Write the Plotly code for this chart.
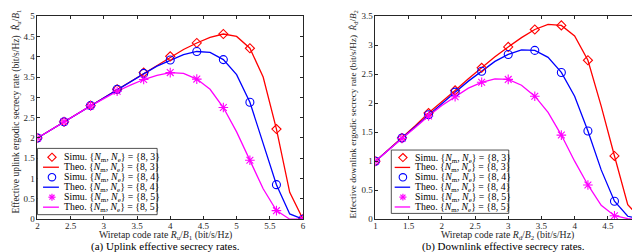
import plotly.graph_objects as go

# ---------------- data ----------------
x_up_sim = [2.0, 2.4, 2.8, 3.2, 3.6, 4.0, 4.4, 4.8, 5.2, 5.6, 6.0]
up_sim_83 = [2.0, 2.4, 2.8, 3.2, 3.61, 4.01, 4.34, 4.56, 4.21, 2.22, 0.0]
up_sim_84 = [2.0, 2.4, 2.8, 3.2, 3.59, 3.92, 4.13, 3.93, 2.88, 0.85, 0.0]
up_sim_85 = [2.0, 2.4, 2.79, 3.15, 3.44, 3.61, 3.45, 2.75, 1.45, 0.21, 0.0]

x_up_theo = [2.0, 2.2, 2.4, 2.6, 2.8, 3.0, 3.2, 3.4, 3.6, 3.8, 4.0,
             4.2, 4.4, 4.6, 4.8, 5.0, 5.2, 5.4, 5.6, 5.8, 6.0]
up_theo_83 = [2.0, 2.2, 2.4, 2.6, 2.8, 3.0, 3.2, 3.4, 3.6, 3.8, 4.0,
              4.18, 4.34, 4.48, 4.56, 4.5, 4.21, 3.5, 2.22, 0.66, 0.0]
up_theo_84 = [2.0, 2.2, 2.4, 2.6, 2.8, 3.0, 3.2, 3.39, 3.58, 3.77, 3.92,
              4.05, 4.13, 4.11, 3.93, 3.56, 2.88, 1.85, 0.85, 0.13, 0.0]
up_theo_85 = [2.0, 2.2, 2.4, 2.59, 2.79, 2.97, 3.15, 3.3, 3.44, 3.54, 3.61,
              3.59, 3.45, 3.2, 2.75, 2.15, 1.45, 0.75, 0.21, 0.0, 0.0]

x_dn_sim = [1.0, 1.4, 1.8, 2.2, 2.6, 3.0, 3.4, 3.8, 4.2, 4.6, 5.0]
dn_sim_83 = [1.0, 1.4, 1.83, 2.22, 2.61, 2.97, 3.27, 3.34, 2.74, 1.09, 0.0]
dn_sim_84 = [1.0, 1.4, 1.8, 2.19, 2.55, 2.84, 2.91, 2.53, 1.52, 0.31, 0.0]
dn_sim_85 = [1.0, 1.39, 1.78, 2.11, 2.36, 2.41, 2.12, 1.45, 0.59, 0.06, 0.0]

x_dn_theo = [1.0, 1.2, 1.4, 1.6, 1.8, 2.0, 2.2, 2.4, 2.6, 2.8, 3.0,
             3.2, 3.4, 3.6, 3.8, 4.0, 4.2, 4.4, 4.6, 4.8, 5.0]
dn_theo_83 = [1.0, 1.2, 1.4, 1.61, 1.83, 2.02, 2.22, 2.42, 2.61, 2.8, 2.97,
              3.13, 3.27, 3.36, 3.34, 3.16, 2.74, 1.95, 1.09, 0.25, 0.0]
dn_theo_84 = [1.0, 1.2, 1.4, 1.6, 1.8, 2.0, 2.19, 2.38, 2.55, 2.72, 2.84,
              2.92, 2.91, 2.79, 2.53, 2.12, 1.52, 0.85, 0.31, 0.05, 0.0]
dn_theo_85 = [1.0, 1.2, 1.39, 1.58, 1.78, 1.96, 2.11, 2.26, 2.36, 2.42, 2.41,
              2.31, 2.12, 1.84, 1.45, 1.0, 0.59, 0.24, 0.06, 0.01, 0.0]

up_ticks_x = [2, 2.5, 3, 3.5, 4, 4.5, 5, 5.5, 6]
up_ticks_y = [0, 0.5, 1, 1.5, 2, 2.5, 3, 3.5, 4, 4.5, 5]
dn_ticks_x = [1, 1.5, 2, 2.5, 3, 3.5, 4, 4.5, 5]
dn_ticks_y = [0, 0.5, 1, 1.5, 2, 2.5, 3, 3.5]

series_labels = [
    "Simu. {<i>N</i><sub>m</sub>, <i>N</i><sub>e</sub>} = {8, 3}",
    "Theo. {<i>N</i><sub>m</sub>, <i>N</i><sub>e</sub>} = {8, 3}",
    "Simu. {<i>N</i><sub>m</sub>, <i>N</i><sub>e</sub>} = {8, 4}",
    "Theo. {<i>N</i><sub>m</sub>, <i>N</i><sub>e</sub>} = {8, 4}",
    "Simu. {<i>N</i><sub>m</sub>, <i>N</i><sub>e</sub>} = {8, 5}",
    "Theo. {<i>N</i><sub>m</sub>, <i>N</i><sub>e</sub>} = {8, 5}",
]

up_xtitle = "Wiretap code rate <i>R</i><sub>u</sub>/<i>B</i><sub>1</sub> (bit/s/Hz)"
dn_xtitle = "Wiretap code rate <i>R</i><sub>d</sub>/<i>B</i><sub>2</sub> (bit/s/Hz)"
up_ytitle = "Effective uplink ergodic secrecy rate (bit/s/Hz)  <i>R\u0302</i><sub>u</sub>/<i>B</i><sub>1</sub>"
dn_ytitle = "Effective downlink ergodic secrecy rate (bit/s/Hz)  <i>R\u0302</i><sub>d</sub>/<i>B</i><sub>2</sub>"
up_caption = "(a) Uplink effective secrecy rates."
dn_caption = "(b) Downlink effective secrecy rates."

# ---------------- styling ----------------
W, H = 640, 252
RED, BLUE, MAG = "#ff0000", "#0000ff", "#ff00ff"
FONT = "Liberation Serif"
AX = "#262626"

def X(px):
    return px / W

def Y(py):
    return 1 - py / H

fig = go.Figure()

def add_panel(xs, s83, s84, s85, xt, t83, t84, t85, xa, ya):
    sims = [(s83, RED, "diamond-open", 7), (s84, BLUE, "circle-open", 8),
            (s85, MAG, "asterisk-open", 8)]
    theos = [(t83, RED), (t84, BLUE), (t85, MAG)]
    for i in range(3):
        tv, col = theos[i]
        fig.add_trace(go.Scatter(x=xt, y=tv, mode="lines", name=series_labels[2 * i + 1],
                                 line=dict(color=col, width=1.3), xaxis=xa, yaxis=ya,
                                 showlegend=False))
    for i in range(3):
        sv, col, sym, sz = sims[i]
        fig.add_trace(go.Scatter(x=xs, y=sv, mode="markers", name=series_labels[2 * i],
                                 marker=dict(symbol=sym, size=sz, color=col,
                                             line=dict(color=col, width=1.1)),
                                 xaxis=xa, yaxis=ya, showlegend=False))

add_panel(x_up_sim, up_sim_83, up_sim_84, up_sim_85,
          x_up_theo, up_theo_83, up_theo_84, up_theo_85, "x", "y")
add_panel(x_dn_sim, dn_sim_83, dn_sim_84, dn_sim_85,
          x_dn_theo, dn_theo_83, dn_theo_84, dn_theo_85, "x2", "y2")

ydom = [Y(214.7), Y(3.3)]
axis_common = dict(showline=True, linecolor=AX, linewidth=0.8, mirror="ticks",
                   ticks="inside", ticklen=3, tickcolor=AX, tickwidth=0.8,
                   showgrid=False, zeroline=False, ticklabeloverflow="allow",
                   tickfont=dict(family=FONT, size=9, color="#262626"))

fig.update_layout(
    width=W, height=H, margin=dict(l=0, r=0, t=0, b=0),
    paper_bgcolor="white", plot_bgcolor="white", showlegend=False,
    font=dict(family=FONT, color="#262626"),
    xaxis=dict(domain=[X(27.7), X(295.3)], range=[2, 6], tickvals=up_ticks_x,
               anchor="y", ticklabelstandoff=-2, **axis_common),
    yaxis=dict(domain=ydom, range=[0, 5], tickvals=up_ticks_y, anchor="x",
               **axis_common),
    xaxis2=dict(domain=[X(368.3), X(636)], range=[1, 5], tickvals=dn_ticks_x,
                anchor="y2", ticklabelstandoff=-2, **axis_common),
    yaxis2=dict(domain=ydom, range=[0, 3.5], tickvals=dn_ticks_y, anchor="x2",
                **axis_common),
)

def text(t, px, py, size, angle=0, color="#262626", xanchor="center"):
    fig.add_annotation(text=t, x=X(px), y=Y(py), xref="paper", yref="paper",
                       showarrow=False, textangle=angle, xanchor=xanchor,
                       yanchor="middle", borderpad=0,
                       font=dict(family=FONT, size=size, color=color))

# axis titles
text(up_xtitle, 157, 231, 9.8)
text(dn_xtitle, 501.5, 231, 9.8)
text(up_ytitle, 6.7, 103, 9.5, angle=-90)
text(dn_ytitle, 346, 105.5, 9.2, angle=-90)
# captions
text(up_caption, 156.7, 243.5, 11, color="black")
text(dn_caption, 497, 243.5, 11, color="black")

# manual compact legends (MATLAB style)
def add_legend(bx0, by0, bx1, by1, row0, dy, mx, lx0, lx1, tx):
    fig.add_shape(type="rect", xref="paper", yref="paper",
                  x0=X(bx0), x1=X(bx1), y0=Y(by1), y1=Y(by0),
                  line=dict(color=AX, width=0.8), fillcolor="white", layer="above")
    cols = [RED, RED, BLUE, BLUE, MAG, MAG]
    for k in range(6):
        cy = row0 + k * dy
        col = cols[k]
        if k in (1, 3, 5):
            fig.add_shape(type="line", xref="paper", yref="paper",
                          x0=X(lx0), x1=X(lx1), y0=Y(cy), y1=Y(cy),
                          line=dict(color=col, width=1.3), layer="above")
        elif k == 0:
            r = 4.2
            fig.add_shape(type="path", xref="paper", yref="paper",
                          path=f"M {X(mx)},{Y(cy - r)} L {X(mx + r)},{Y(cy)} L {X(mx)},{Y(cy + r)} L {X(mx - r)},{Y(cy)} Z",
                          line=dict(color=col, width=1.1), layer="above")
        elif k == 2:
            r = 3.8
            fig.add_shape(type="circle", xref="paper", yref="paper",
                          x0=X(mx - r), x1=X(mx + r), y0=Y(cy + r), y1=Y(cy - r),
                          line=dict(color=col, width=1.1), layer="above")
        else:
            r = 3.6
            d = r * 0.707
            for (ax_, ay_) in [(r, 0), (0, r), (d, d), (d, -d)]:
                fig.add_shape(type="line", xref="paper", yref="paper",
                              x0=X(mx - ax_), x1=X(mx + ax_), y0=Y(cy - ay_), y1=Y(cy + ay_),
                              line=dict(color=col, width=1.2), layer="above")
        text(series_labels[k], tx, cy, 9.8, color="black", xanchor="left")

add_legend(27.7, 141, 148.3, 210, 150.2, 10.4, 42.3, 33.3, 49.3, 53.5)
add_legend(384.3, 142.7, 502.7, 208.7, 150.5, 10.3, 396, 387.7, 403.3, 406.8)

fig.write_html("out.html")
